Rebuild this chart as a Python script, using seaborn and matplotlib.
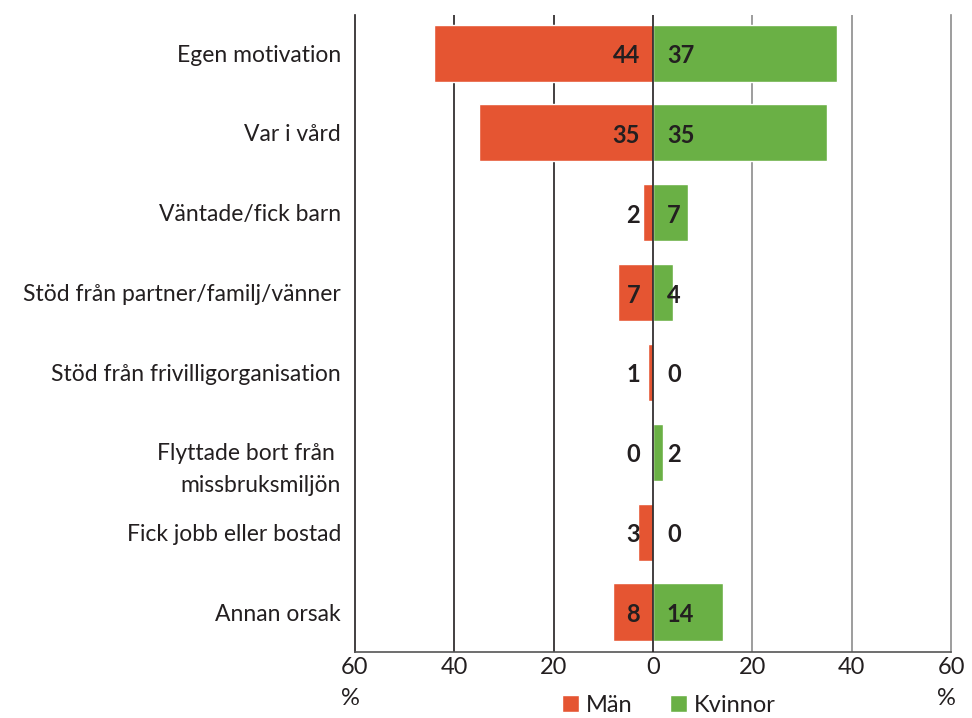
import matplotlib
matplotlib.use("Agg")
import matplotlib.pyplot as plt
import matplotlib.transforms as mtransforms
import seaborn as sns
import pandas as pd
from matplotlib.patches import Patch

categories = [
    "Egen motivation",
    "Var i vård",
    "Väntade/fick barn",
    "Stöd från partner/familj/vänner",
    "Stöd från frivilligorganisation",
    "Flyttade bort från \nmissbruksmiljön",
    "Fick jobb eller bostad",
    "Annan orsak",
]
man = [44, 35, 2, 7, 1, 0, 3, 8]
kvinnor = [37, 35, 7, 4, 0, 2, 0, 14]
tick_values = [-60, -40, -20, 0, 20, 40, 60]

RED = "#E55532"
GREEN = "#6AB045"
TEXT = "#231F20"

sns.set_style("white")
plt.rcParams["font.family"] = ["Lato", "DejaVu Sans"]

df = pd.concat([
    pd.DataFrame({"kategori": categories, "andel": [-v for v in man], "kon": "Män"}),
    pd.DataFrame({"kategori": categories, "andel": kvinnor, "kon": "Kvinnor"}),
])

fig = plt.figure(figsize=(9.72, 7.18), dpi=100)
ax = fig.add_axes([0.3652, 0.092, 0.6132, 0.887])

# gridlines behind the bars
for v in tick_values:
    if v in (-60, 60, 0):
        continue
    ax.axvline(v, color="#231F20" if v < 0 else "#8C8C8C", lw=1.2, zorder=0)

sns.barplot(data=df, x="andel", y="kategori", hue="kon", orient="h", dodge=False,
            palette={"Män": RED, "Kvinnor": GREEN}, width=0.715, saturation=1,
            legend=False, ax=ax, zorder=2)

ax.axvline(0, color="#231F20", lw=1.2, zorder=3)

for i, (m, k) in enumerate(zip(man, kvinnor)):
    ax.text(-2.6, i + 0.03, str(m), ha="right", va="center", fontsize=17,
            fontweight="bold", color=TEXT, zorder=4)
    ax.text(2.8, i + 0.03, str(k), ha="left", va="center", fontsize=17,
            fontweight="bold", color=TEXT, zorder=4)

ax.set_xlim(-60, 60)
ax.set_ylim(7.5, -0.476)
ax.set_xticks(tick_values)
ax.set_xticklabels([str(abs(v)) for v in tick_values], fontsize=17, color=TEXT)
ax.tick_params(axis="x", length=0, pad=4)
ax.tick_params(axis="y", length=0, pad=10)
for lab in ax.get_yticklabels():
    lab.set_fontsize(16.5)
    lab.set_color(TEXT)
    lab.set_multialignment("right")
    if "\n" in lab.get_text():
        lab.set_linespacing(1.6)
        shift = mtransforms.ScaledTranslation(0, -10 / 100, fig.dpi_scale_trans)
        lab.set_transform(lab.get_transform() + shift)
ax.set_xlabel("")
ax.set_ylabel("")

ax.spines["top"].set_visible(False)
ax.spines["left"].set_color("#231F20")
ax.spines["right"].set_color("#8C8C8C")
ax.spines["bottom"].set_color("#555555")
for s in ("left", "right", "bottom"):
    ax.spines[s].set_linewidth(1.2)

for xv in (-60, 60):
    ax.annotate("%", xy=(xv, 0), xycoords=("data", "axes fraction"),
                xytext=(-5, -36), textcoords="offset pixels",
                ha="center", va="top", fontsize=17, color=TEXT)

handles = [Patch(facecolor=RED, label="Män"), Patch(facecolor=GREEN, label="Kvinnor")]
fig.legend(handles=handles, loc="center", bbox_to_anchor=(0.688, 0.018), ncol=2,
           frameon=False, fontsize=17, handlelength=0.7, handleheight=0.7,
           handletextpad=0.3, columnspacing=1.6, labelcolor=TEXT,
           borderpad=0.1)

fig.savefig("out.png", dpi=100)
